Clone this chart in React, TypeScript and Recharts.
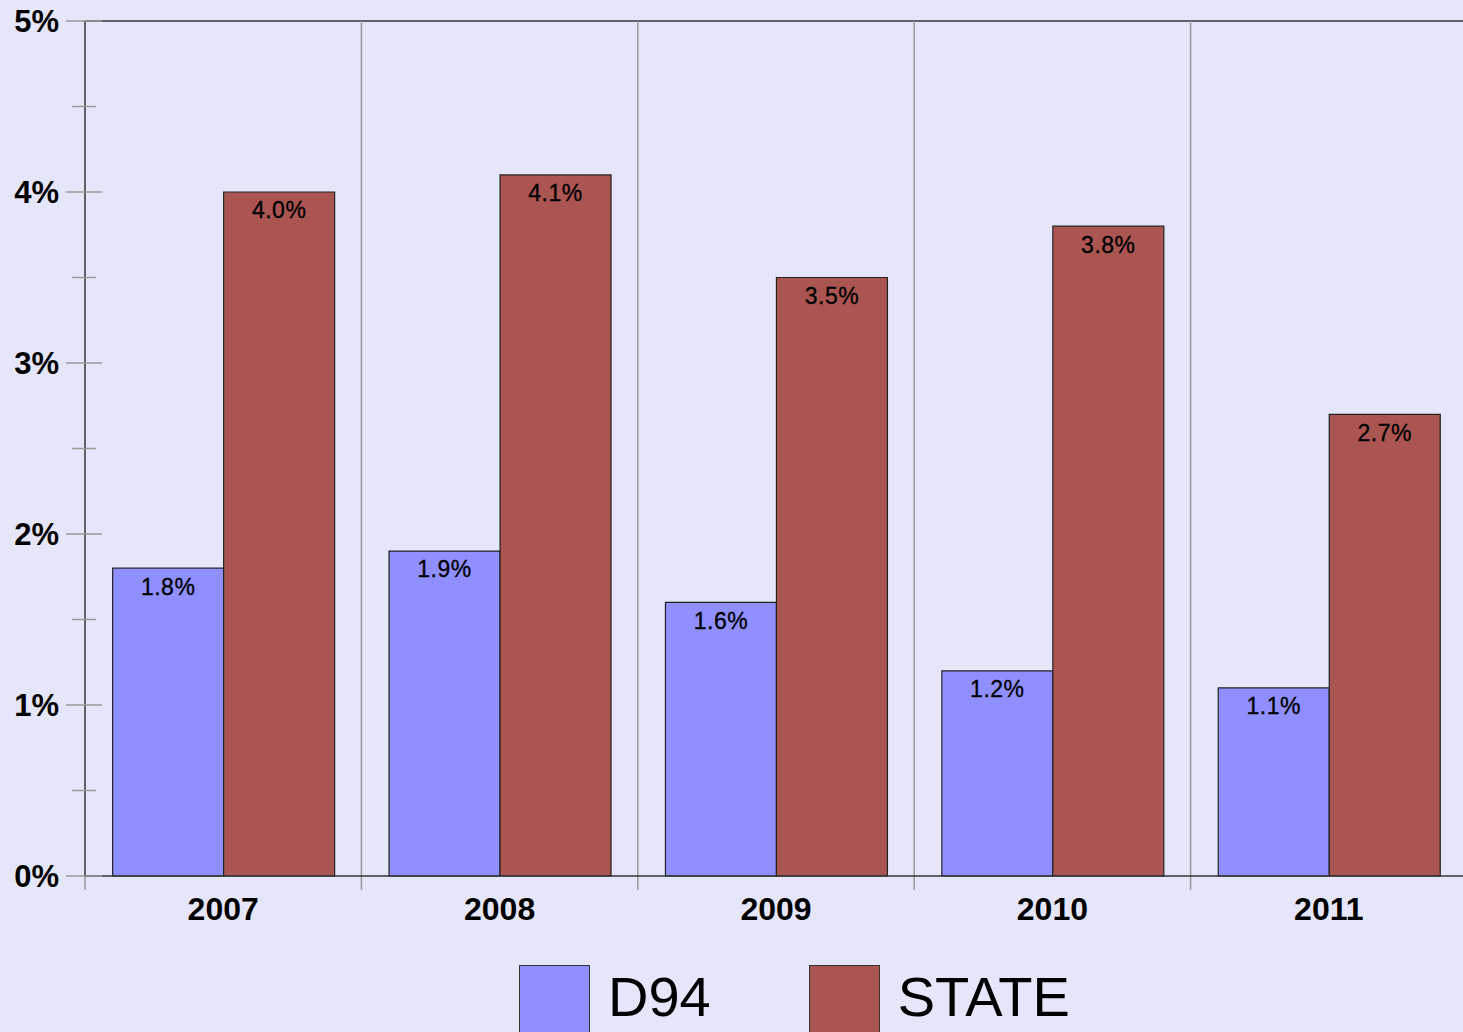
import React from 'react';
import { BarChart, Bar, XAxis, YAxis, ReferenceLine, LabelList, Legend } from 'recharts';

const years = ['2007', '2008', '2009', '2010', '2011'];
const d94 = [1.8, 1.9, 1.6, 1.2, 1.1];
const stateVals = [4.0, 4.1, 3.5, 3.8, 2.7];
const yTicks = [0, 0.5, 1, 1.5, 2, 2.5, 3, 3.5, 4, 4.5, 5];
const seriesNames = ['D94', 'STATE'];

const data = years.map((y, i) => ({ year: y, D94: d94[i], STATE: stateVals[i] }));

const BLUE = '#8F8FFF';
const RED = '#AB5552';
const BG = '#E6E6FA';
const FONT = '"Liberation Sans", Arial, sans-serif';

const YTick = (props: any) => {
  const { x, y, payload } = props;
  const v = payload.value as number;
  const major = Number.isInteger(v);
  return (
    <g>
      <line x1={major ? x - 19 : x - 13} x2={major ? x + 17 : x + 11} y1={y} y2={y} stroke="#999" strokeWidth={1.5} />
      {major && (
        <text x={x - 26} y={y} textAnchor="end" dominantBaseline="central" fontSize={31} fontWeight="bold" fontFamily={FONT} fill="#000">
          {`${v}%`}
        </text>
      )}
    </g>
  );
};

const LegendContent = () => (
  <div style={{ display: 'flex', alignItems: 'flex-start', fontFamily: FONT }}>
    {seriesNames.map((n, i) => (
      <div key={n} style={{ display: 'flex', alignItems: 'flex-start', marginRight: i === 0 ? 98 : 0 }}>
        <div style={{ width: 71, height: 71, background: i === 0 ? BLUE : RED, border: '1.5px solid #333', boxSizing: 'border-box' }} />
        <span style={{ marginLeft: 18, fontSize: 56, lineHeight: '64px', color: '#000' }}>{n}</span>
      </div>
    ))}
  </div>
);

const labelFmt = (v: any) => `${Number(v).toFixed(1)}%`;

export default function App() {
  return (
    <div style={{ position: 'fixed', left: 0, top: 0, width: 1463, height: 1032, overflow: 'hidden', background: BG }}>
      <BarChart
        width={1468}
        height={1100}
        data={data}
        margin={{ top: 21, right: 1, bottom: 0, left: 0 }}
        barCategoryGap="10%"
        barGap={0}
        style={{ background: BG }}
      >
        <XAxis
          dataKey="year"
          height={224}
          tickLine={false}
          tickSize={0}
          tickMargin={21}
          axisLine={{ stroke: '#333', strokeWidth: 1.5 }}
          tick={{ fill: '#000', fontSize: 32, fontWeight: 'bold', fontFamily: FONT }}
        />
        <YAxis
          domain={[0, 5]}
          ticks={yTicks}
          interval={0}
          width={85}
          tickSize={0}
          tickMargin={0}
          tickLine={false}
          axisLine={{ stroke: '#333', strokeWidth: 1.5 }}
          tick={<YTick />}
        />
        <ReferenceLine y={5} stroke="#333" strokeWidth={1.5} ifOverflow="visible" />
        {years.map((yr, i) => (
          <ReferenceLine
            key={yr}
            ifOverflow="visible"
            position="start"
            stroke="#999"
            strokeWidth={1.5}
            segment={i === 0 ? [{ x: yr, y: -0.08 }, { x: yr, y: 0 }] : [{ x: yr, y: -0.08 }, { x: yr, y: 5 }]}
          />
        ))}
        <Legend
          layout="horizontal"
          verticalAlign="middle"
          align="center"
          content={<LegendContent />}
          wrapperStyle={{ top: 965, left: 519, width: 800, height: 80 }}
        />
        <Bar dataKey="D94" fill={BLUE} stroke="#222" strokeWidth={1.2} isAnimationActive={false}>
          <LabelList dataKey="D94" position="insideTop" offset={10} fill="#000" fontSize={23} letterSpacing={0.5} stroke="#000" strokeWidth={0.3} fontFamily={FONT} formatter={labelFmt} />
        </Bar>
        <Bar dataKey="STATE" fill={RED} stroke="#222" strokeWidth={1.2} isAnimationActive={false}>
          <LabelList dataKey="STATE" position="insideTop" offset={10} fill="#000" fontSize={23} letterSpacing={0.5} stroke="#000" strokeWidth={0.3} fontFamily={FONT} formatter={labelFmt} />
        </Bar>
      </BarChart>
    </div>
  );
}
